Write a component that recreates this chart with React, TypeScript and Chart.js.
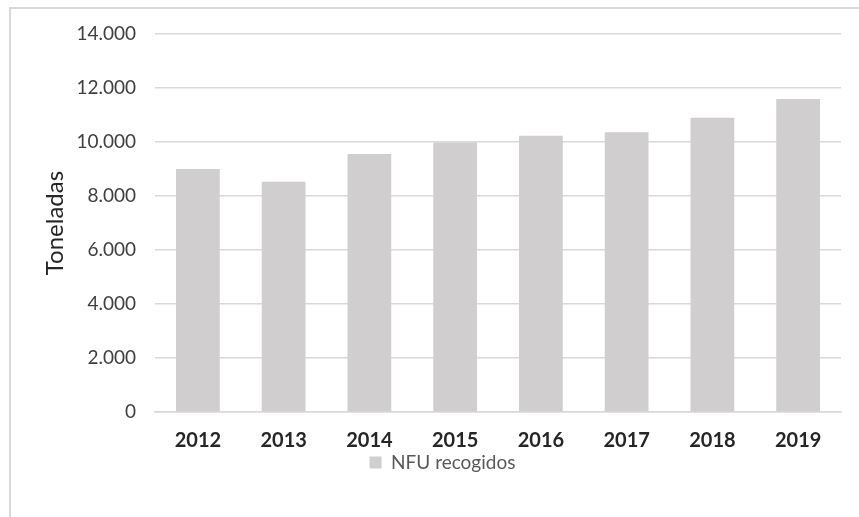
import React, { useEffect, useRef } from "react";
import { Chart, registerables } from "chart.js";

Chart.register(...registerables);

const categories = ["2012", "2013", "2014", "2015", "2016", "2017", "2018", "2019"];
const nfuRecogidos = [9000, 8530, 9560, 9980, 10230, 10360, 10900, 11590];
const seriesLabel = "NFU recogidos";
const yTitle = "Toneladas";

const fmt = (v: number) => {
  const s = Math.round(v).toString();
  return s.replace(/\B(?=(\d{3})+(?!\d))/g, ".");
};

export default function App() {
  const ref = useRef<HTMLCanvasElement | null>(null);

  useEffect(() => {
    document.body.style.margin = "0";
    document.body.style.overflow = "hidden";
    const canvas = ref.current;
    if (!canvas) return;
    const chart = new Chart(canvas, {
      type: "bar",
      data: {
        labels: categories,
        datasets: [
          {
            label: seriesLabel,
            data: nfuRecogidos,
            backgroundColor: "#d0cece",
            borderWidth: 0,
            barPercentage: 0.51,
            categoryPercentage: 1,
          },
        ],
      },
      options: {
        responsive: false,
        animation: false,
        maintainAspectRatio: false,
        layout: { padding: { left: 44, right: 18, top: 34, bottom: 35 } },
        plugins: {
          tooltip: { enabled: false },
          legend: {
            position: "bottom",
            labels: {
              boxWidth: 12,
              boxHeight: 12,
              padding: 4,
              color: "#595959",
              font: { family: "Lato", size: 19 },
            },
          },
        },
        scales: {
          x: {
            grid: { display: false, drawTicks: false },
            border: { display: true, color: "#d9d9d9", width: 1.5 },
            ticks: {
              padding: 17,
              color: "#262626",
              font: { family: "Lato", size: 20, weight: "bold" },
            },
            afterFit: (s: any) => {
              s.height = 37;
            },
          },
          y: {
            min: 0,
            max: 14000,
            ticks: {
              stepSize: 2000,
              padding: 19,
              color: "#404040",
              font: { family: "Lato", size: 19 },
              callback: (v: any) => fmt(Number(v)),
            },
            grid: { color: "#d9d9d9", lineWidth: 1.5, drawTicks: false },
            border: { display: false },
            title: {
              display: true,
              text: yTitle,
              color: "#262626",
              font: { family: "Lato", size: 24 },
              padding: { top: -3, bottom: 0 },
            },
            afterFit: (s: any) => {
              s.width = 111;
            },
          },
        },
      },
    });
    return () => chart.destroy();
  }, []);

  return (
    <div style={{ position: "relative", width: 859, height: 517, background: "#fff" }}>
      <div
        style={{
          position: "absolute",
          left: 9,
          top: 7,
          width: 850,
          height: 510,
          borderTop: "2px solid #d9d9d9",
          borderLeft: "2px solid #d9d9d9",
          boxSizing: "border-box",
        }}
      />
      <canvas ref={ref} width={859} height={517} style={{ position: "absolute", left: 0, top: 0, display: "block" }} />
    </div>
  );
}
